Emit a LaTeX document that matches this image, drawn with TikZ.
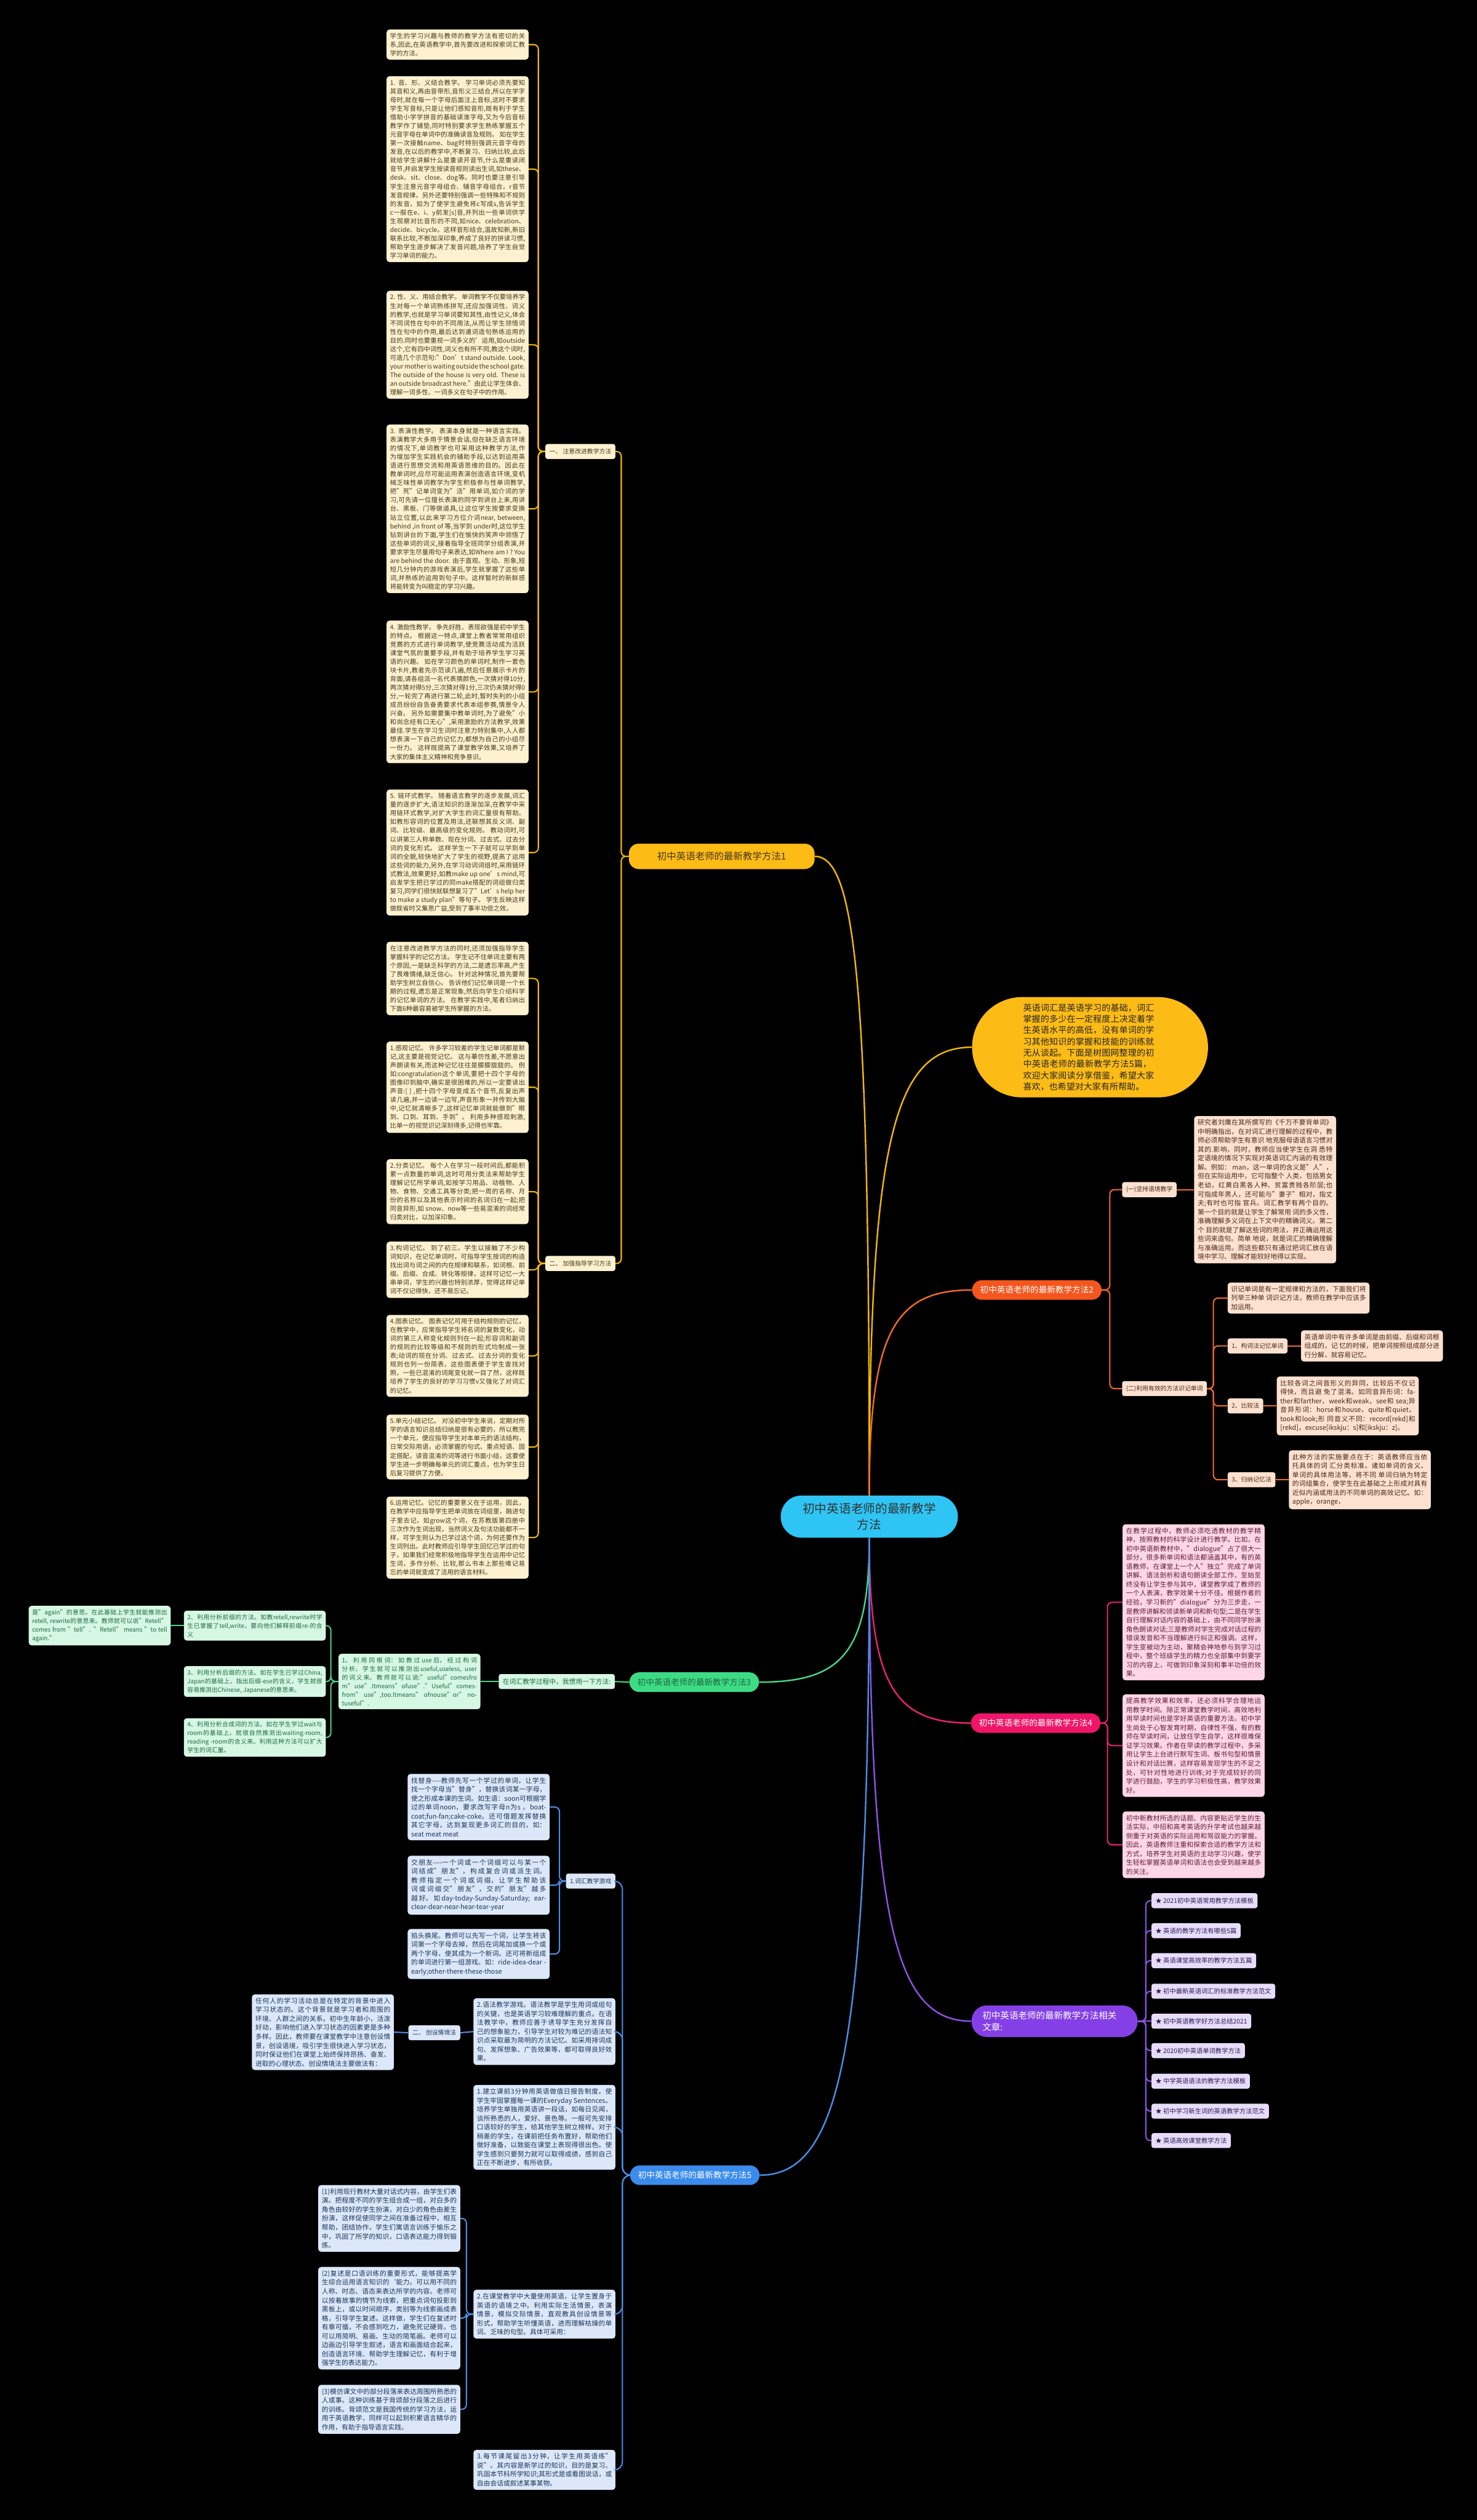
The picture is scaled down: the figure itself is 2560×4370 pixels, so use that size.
\documentclass[tikz,border=0pt]{standalone}
\usepackage{fontspec}
\setmainfont{Noto Sans CJK SC}
\XeTeXlinebreaklocale "zh"
\XeTeXlinebreakskip=0pt plus 1pt
\usepackage{xcolor}
\usetikzlibrary{positioning, calc}

\definecolor{hubfill}{HTML}{2EC5F4}
\definecolor{yelfill}{HTML}{FDBB16}
\definecolor{yelline}{HTML}{F2B705}
\definecolor{yelbox}{HTML}{FDF1D0}
\definecolor{yeltext}{HTML}{45381E}
\definecolor{orgfill}{HTML}{F4561E}
\definecolor{orgline}{HTML}{F26A2C}
\definecolor{orgbox}{HTML}{FDE1D0}
\definecolor{orgtext}{HTML}{4A2818}
\definecolor{grnfill}{HTML}{3DDC84}
\definecolor{grnline}{HTML}{45D488}
\definecolor{grnbox}{HTML}{D5F7E3}
\definecolor{grntext}{HTML}{1E6A40}
\definecolor{pnkfill}{HTML}{EF1568}
\definecolor{pnkline}{HTML}{E6246E}
\definecolor{pnkbox}{HTML}{FFD6E6}
\definecolor{pnktext}{HTML}{5A1D36}
\definecolor{blufill}{HTML}{3A8BEC}
\definecolor{bluline}{HTML}{4A8FE6}
\definecolor{blubox}{HTML}{DCE8FA}
\definecolor{blutext}{HTML}{1C3558}
\definecolor{viofill}{HTML}{8440E6}
\definecolor{violine}{HTML}{8E52E6}
\definecolor{viobox}{HTML}{E7DDFA}
\definecolor{viotext}{HTML}{2E1A55}

\tikzset{
  hub/.style={rectangle, rounded corners=36pt, fill=hubfill, text=black!80,
              minimum height=73pt, minimum width=307pt, align=center,
              font=\fontsize{21}{28}\selectfont},
  intro/.style={rectangle, rounded corners=87pt, fill=yelfill, text=black!85,
                minimum height=174pt, minimum width=409pt, text width=232pt, align=left,
                font=\fontsize{15}{19.5}\selectfont},
  pill/.style={rectangle, rounded corners=17pt, minimum height=34pt, inner xsep=14pt,
               text=white, font=\fontsize{14.5}{18}\selectfont},
  tag/.style={rectangle, rounded corners=4pt, minimum height=26pt, inner xsep=7pt,
              font=\fontsize{10.5}{13}\selectfont},
  note/.style={rectangle, rounded corners=5pt, text width=234pt, inner xsep=6pt,
               inner ysep=6pt, align=justify, font=\fontsize{11.5}{15.5}\selectfont},
  ynote/.style={note, fill=yelbox, text=yeltext, font=\fontsize{11}{15}\selectfont},
  ytag/.style={tag, fill=yelbox, text=yeltext},
  onote/.style={note, fill=orgbox, text=orgtext},
  otag/.style={tag, fill=orgbox, text=orgtext},
  gnote/.style={note, fill=grnbox, text=grntext, font=\fontsize{10.5}{15}\selectfont},
  gtag/.style={tag, fill=grnbox, text=grntext, font=\fontsize{11.5}{14}\selectfont},
  pnote/.style={note, fill=pnkbox, text=pnktext},
  bnote/.style={note, fill=blubox, text=blutext},
  btag/.style={tag, fill=blubox, text=blutext},
  vtag/.style={tag, fill=viobox, text=viotext, font=\fontsize{11}{13}\selectfont},
  brk/.style={line width=2.2pt, rounded corners=8pt},
  curvy/.style={line width=2.6pt, to path={.. controls ($(\tikztostart)!0.8!(\tikztostart|-\tikztotarget)$) and ($(\tikztostart|-\tikztotarget)!0.25!(\tikztotarget)$) .. (\tikztotarget)}}
}

\begin{document}
\begin{tikzpicture}[x=1pt, y=-1pt]
\fill[black] (0,0) rectangle (2560,4370);
\useasboundingbox (0,0) rectangle (2560,4370);

% centre and first level
\node[hub] (hub) at (1507,2630) {初中英语老师的最新教学\\方法};
\node[intro, anchor=west] (intro) at (1685,1816) {英语词汇是英语学习的基础，词汇掌握的多少在一定程度上决定着学生英语水平的高低，没有单词的学习其他知识的掌握和技能的训练就无从谈起。下面是树图网整理的初中英语老师的最新教学方法5篇，欢迎大家阅读分享借鉴，希望大家喜欢，也希望对大家有所帮助。};
\node[pill, fill=yelfill, text=yeltext, minimum width=322pt, minimum height=44pt, font=\fontsize{16.5}{20}\selectfont, anchor=west] (ma) at (1090,1485) {初中英语老师的最新教学方法1};
\node[pill, fill=orgfill, anchor=west] (mb) at (1685,2237) {初中英语老师的最新教学方法2};
\node[pill, fill=grnfill, text=grntext, anchor=west] (mc) at (1091,2917) {初中英语老师的最新教学方法3};
\node[pill, fill=pnkfill, anchor=west] (md) at (1683,2988) {初中英语老师的最新教学方法4};
\node[pill, fill=blufill, anchor=west] (me) at (1092,3772) {初中英语老师的最新教学方法5};
\node[pill, fill=viofill, rounded corners=27pt, minimum width=288pt, minimum height=55pt, text width=250pt, align=left, font=\fontsize{15.5}{20}\selectfont, anchor=west] (mf) at (1684,3505) {初中英语老师的最新教学方法相关\\文章:};

\draw[curvy, yelline] (hub.north) to (ma.east);
\draw[curvy, yelline] (hub.north) to (intro.west);
\draw[curvy, orgline] (hub.north) to (mb.west);
\draw[curvy, grnline] (hub.south) to (mc.east);
\draw[curvy, pnkline] (hub.south) to (md.west);
\draw[curvy, violine] (hub.south) to (mf.west);
\draw[curvy, bluline] (hub.south) to (me.east);

% method 1
\node[ytag, anchor=east] (a1) at (1067,783) {一、 注意改进教学方法};
\node[ytag, anchor=east] (a2) at (1067,2191) {二、 加强指导学习方法};
\node[ynote, anchor=north west] (a10) at (670,51) {学生的学习兴趣与教师的教学方法有密切的关系,因此,在英语教学中,首先要改进和探索词汇教学的方法。};
\node[ynote, anchor=north west] (a11) at (670,132) {1. 音、形、义结合教学。 学习单词必须先要知其音和义,再由音带形,音形义三结合,所以在学字母时,就在每一个字母后面注上音标,这时不要求学生写音标,只是让他们感知音形,既有利于学生借助小学学拼音的基础读准字母,又为今后音标教学作了铺垫,同时特别要求学生熟练掌握五个元音字母在单词中的准确读音及规则。 如在学生第一次接触name、bag时特别强调元音字母的发音,在以后的教学中,不断复习、归纳比较,此后就给学生讲解什么是重读开音节,什么是重读闭音节,并启发学生按读音规则读出生词,如these、desk、sit、close、dog等。同时也要注意引导学生注意元音字母组合、辅音字母组合，r音节发音规律。另外还要特别强调一些特殊和不规则的发音，如为了使学生避免将c写成s,告诉学生c一般在e、i、y前发[s]音,并列出一些单词供学生观察对比音形的不同,如nice、celebration、decide、bicycle。这样音形结合,温故知新,新旧联系比较,不断加深印象,养成了良好的拼读习惯,帮助学生逐步解决了发音问题,培养了学生自觉学习单词的能力。};
\node[ynote, anchor=north west] (a12) at (670,504) {2. 性、义、用结合教学。 单词教学不仅要培养学生对每一个单词熟练拼写,还应加强词性、词义的教学,也就是学习单词要知其性,由性记义,体会不同词性在句中的不同用法,从而让学生领悟词性在句中的作用,最后达到遣词造句熟练运用的目的.同时也要重视一词多义的'运用,如outside这个,它有四中词性,词义也有所不同,教这个词时,可造几个示范句:"Don’t stand outside. Look, your mother is waiting outside the school gate. The outside of the house is very old. These is an outside broadcast here."由此让学生体会、理解一词多性、一词多义在句子中的作用。};
\node[ynote, anchor=north west] (a13) at (670,736) {3. 表演性教学。 表演本身就是一种语言实践。表演教学大多用于情景会话,但在缺乏语言环境的情况下,单词教学也可采用这种教学方法,作为增加学生实践机会的辅助手段,以达到运用英语进行思想交流和用英语思维的目的。因此在教单词时,应尽可能运用表演创造语言环境,变机械乏味性单词教学为学生积极参与性单词教学,把"死"记单词变为"活"用单词,如介词的学习,可先请一位擅长表演的同学到讲台上来,用讲台、黑板、门等做道具,让这位学生按要求变换站立位置,以此来学习方位介词near, between, behind ,in front of 等,当学到 under时,这位学生钻到讲台的下面,学生们在愉快的笑声中领悟了这些单词的词义,接着指导全班同学分组表演,并要求学生尽量用句子来表达,如Where am I ? You are behind the door. 由于直观、生动、形象,短短几分钟内的游戏表演后,学生就掌握了这些单词,并熟练的运用到句子中。这样暂时的新鲜感将能转变为叫稳定的学习兴趣。};
\node[ynote, anchor=north west] (a14) at (670,1076) {4. 激励性教学。 争先好胜、表现欲强是初中学生的特点。 根据这一特点,课堂上教者常常用组织竞赛的方式进行单词教学,使竞赛活动成为活跃课堂气氛的重要手段,并有助于培养学生学习英语的兴趣。 如在学习颜色的单词时,制作一套色块卡片,教者先示范读几遍,然后任意展示卡片的背面,请各组派一名代表猜颜色,一次猜对得10分,两次猜对得5分,三次猜对得1分,三次仍未猜对得0分,一轮完了再进行第二轮,此时,暂时失利的小组成员纷纷自告奋勇要求代表本组参赛,情景令人兴奋。 另外如需要集中教单词时,为了避免"小和尚念经有口无心",采用激励的方法教学,效果最佳.学生在学习生词时注意力特别集中,人人都想表演一下自己的记忆力,都想为自己的小组尽一份力。 这样既提高了课堂教学效果,又培养了大家的集体主义精神和竞争意识。};
\node[ynote, anchor=north west] (a15) at (670,1369) {5. 链环式教学。 随着语言教学的逐步发展,词汇量的逐步扩大,语法知识的逐渐加深,在教学中采用链环式教学,对扩大学生的词汇量很有帮助。 如教形容词的位置及用法,还联想其反义词、副词、比较级、最高级的变化规则。 教动词时,可以讲第三人称单数、现在分词、过去式、过去分词的变化形式。 这样学生一下子就可以学到单词的全貌,较快地扩大了学生的视野,提高了运用这些词的能力,另外,在学习动词词组时,采用链环式教法,效果更好,如教make up one's mind,可启发学生把已学过的同make搭配的词组做归类复习,同学们很快就联想复习了"Let's help her to make a study plan"等句子。 学生反映这样做既省时又集思广益,受到了事半功倍之效。};
\node[ynote, anchor=north west] (a20) at (670,1633) {在注意改进教学方法的同时,还须加强指导学生掌握科学的记忆方法。 学生记不住单词主要有两个原因,一是缺乏科学的方法,二是遗忘率高,产生了畏难情绪,缺乏信心。 针对这种情况,首先要帮助学生树立自信心。 告诉他们记忆单词是一个长期的过程,遗忘是正常现象,然后向学生介绍科学的记忆单词的方法。 在教学实践中,笔者归纳出下面6种最容易被学生所掌握的方法。};
\node[ynote, anchor=north west] (a21) at (670,1806) {1.感观记忆。 许多学习较差的学生记单词都是默记,这主要是视觉记忆。 这与摹仿性差,不愿意出声朗读有关,而这种记忆往往是朦朦胧胧的。 例如:congratulation这个单词,要把十四个字母的图像印到脑中,确实是很困难的,所以一定要读出声音:[ ] ,把十四个字母变成五个音节,反复出声读几遍,并一边读一边写,声音形象一并传到大脑中,记忆就清晰多了,这样记忆单词就能做到"眼到、口到、耳到、手到"。 利用多种感观刺激,比单一的视觉识记深刻得多,记得也牢靠。};
\node[ynote, anchor=north west] (a22) at (670,2010) {2.分类记忆。 每个人在学习一段时间后,都能积累一点数量的单词,这时可用分类法来帮助学生理解记忆所学单词,如按学习用品、动植物、人物、食物、交通工具等分类;把一周的名称、月份的名称以及其他表示时间的名词归在一起;把同音异形,如 snow、now等一些易混淆的词经常归类对比，以加深印象。};
\node[ynote, anchor=north west] (a23) at (670,2153) {3.构词记忆。 到了初三，学生以接触了不少构词知识，在记忆单词时，可指导学生按词的构造找出词与词之间的内在规律和联系，如词根、前缀、后缀、合成、转化等规律，这样可记忆一大串单词，学生的兴趣也特别浓厚，觉得这样记单词不仅记得快，还不易忘记。};
\node[ynote, anchor=north west] (a24) at (670,2280) {4.图表记忆。 图表记忆可用于结构规则的记忆，在教学中，应常指导学生将名词的复数变化，动词的第三人称变化规则列在一起;形容词和副词的规则的比较等级和不规则的形式均制成一张表;动词的现在分词、过去式、过去分词的变化规则也列一份简表，这些图表便于学生查找对照，一些已混淆的词尾变化就一目了然，这样既培养了学生的良好的学习习惯v又强化了对词汇的记忆。};
\node[ynote, anchor=north west] (a25) at (670,2453) {5.单元小结记忆。 对没初中学生来说，定期对所学的语言知识总结归纳是很有必要的，所以教完一个单元，便应指导学生对本单元的语法结构，日常交际用语，必须掌握的句式、重点短语、固定搭配，读音混淆的词等进行书面小结，这要使学生进一步明确每单元的词汇重点，也为学生日后复习提供了方便。};
\node[ynote, anchor=north west] (a26) at (670,2595) {6.运用记忆。记忆的重要意义在于运用，因此，在教学中应指导学生把单词放在词组里，融进句子里去记，如grow这个词，在苏教版第四册中三次作为生词出现，当然词义及句法功能都不一样，可学生则认为已学过这个词，为何还要作为生词列出。此时教师应引导学生回忆已学过的句子，如果我们经常积极地指导学生在运用中记忆生词，多作分析、比较,那么书本上那些难记易忘的单词就变成了活用的语言材料。};
\draw[brk, yelline] (ma.west) -- ++(-13,0) |- (a1.east);
\draw[brk, yelline] (ma.west) -- ++(-13,0) |- (a2.east);
\draw[brk, yelline] (a1.west) -- ++(-12,0) |- (a10.east);
\draw[brk, yelline] (a1.west) -- ++(-12,0) |- (a11.east);
\draw[brk, yelline] (a1.west) -- ++(-12,0) |- (a12.east);
\draw[brk, yelline] (a1.west) -- ++(-12,0) |- (a13.east);
\draw[brk, yelline] (a1.west) -- ++(-12,0) |- (a14.east);
\draw[brk, yelline] (a1.west) -- ++(-12,0) |- (a15.east);
\draw[brk, yelline] (a2.west) -- ++(-12,0) |- (a20.east);
\draw[brk, yelline] (a2.west) -- ++(-12,0) |- (a21.east);
\draw[brk, yelline] (a2.west) -- ++(-12,0) |- (a22.east);
\draw[brk, yelline] (a2.west) -- ++(-12,0) |- (a23.east);
\draw[brk, yelline] (a2.west) -- ++(-12,0) |- (a24.east);
\draw[brk, yelline] (a2.west) -- ++(-12,0) |- (a25.east);
\draw[brk, yelline] (a2.west) -- ++(-12,0) |- (a26.east);

% method 2
\node[otag, anchor=west] (b1) at (1945,2063) {(一)坚持语境教学};
\node[onote, anchor=west] (b1t) at (2070,2063) {研究者刘鹰在其所撰写的《千万不要背单词》中明确指出，在对词汇进行理解的过程中，教师必须帮助学生有意识 地克服母语语言习惯对其的.影响，同时，教师应当使学生在洞 悉特定语境的情况下实现对英语词汇内涵的有效理解。例如： man，这一单词的含义是"人"，但在实际运用中，它可指整个 人类，包括男女老幼，红黄白黑各人种、贫富贵贱各阶层;也 可指成年男人，还可能与"妻子"相对，指丈夫;有时也可指 官兵。词汇教学有两个目的。第一个目的就是让学生了解常用 词的多义性，准确理解多义词在上下文中的精确词义。第二个 目的就是了解这些词的用法，并正确运用这些词来造句。简单 地说，就是词汇的精确理解与准确运用。而这些都只有通过把词汇放在语境中学习、理解才能较好地得以实现。};
\node[otag, anchor=west] (b2) at (1945,2408) {(二)利用有效的方法识记单词};
\node[onote, anchor=west] (b20) at (2128,2251) {识记单词是有一定规律和方法的，下面我们将列举三种单 词识记方法，教师在教学中应该多加运用。};
\node[otag, anchor=west] (b21) at (2128,2334) {1、构词法记忆单词};
\node[onote, right=23pt of b21] (b21t) {英语单词中有许多单词是由前缀、后缀和词根组成的，记 忆的时候，把单词按照组成部分进行分解，就容易记忆。};
\node[otag, anchor=west] (b22) at (2128,2438) {2、比较法};
\node[onote, right=23pt of b22] (b22t) {比较各词之间音形义的异同，比较后不仅记得快，而且避 免了混淆。如同音异形词：father和farther，week和weak，see和 sea;异音异形词：horse和house，quite和quiet，took和look;形 同音义不同：record[rekd]和[rekd]，excuse[ikskju：s]和[ikskju：z]。};
\node[otag, anchor=west] (b23) at (2128,2566) {3、归纳记忆法};
\node[onote, right=23pt of b23] (b23t) {此种方法的实施要点在于：英语教师应当依托具体的词 汇分类标准，诸如单词的含义、单词的具体用法等，将不同 单词归纳为特定的词组集合，使学生在此基础之上形成对具有近似内涵或用法的不同单词的高效记忆。如：apple，orange，};
\draw[brk, orgline] (mb.east) -- ++(14,0) |- (b1.west);
\draw[brk, orgline] (mb.east) -- ++(14,0) |- (b2.west);
\draw[brk, orgline] (b1.east) -- (b1t.west);
\draw[brk, orgline] (b2.east) -- ++(11,0) |- (b20.west);
\draw[brk, orgline] (b2.east) -- ++(11,0) |- (b21.west);
\draw[brk, orgline] (b2.east) -- ++(11,0) |- (b22.west);
\draw[brk, orgline] (b2.east) -- ++(11,0) |- (b23.west);
\draw[brk, orgline] (b21.east) -- (b21t.west);
\draw[brk, orgline] (b22.east) -- (b22t.west);
\draw[brk, orgline] (b23.east) -- (b23t.west);

% method 3
\node[gtag, anchor=east] (c0) at (1066,2916) {在词汇教学过程中，我惯用一下方法:};
\node[gnote, anchor=east] (c1) at (833,2916) {1、利用同根词：如教过use后，经过构词分析，学生就可以推测出useful,useless, user的词义来。教师就可以说:"useful"\allowbreak comesfro\allowbreak m"use".\allowbreak Itmeans"ofuse".\allowbreak "Useful"comesfro\allowbreak m"use",\allowbreak too.Itmeans"ofnouse"\allowbreak or"notusefu\allowbreak l".};
\node[gnote, anchor=east] (c2) at (565,2819) {2、利用分析前缀的方法。如教retell,rewrite时学生已掌握了tell,write，要向他们解释前缀re-的含义};
\node[gnote, anchor=east] (c2t) at (296,2819) {是"again"的意思。在此基础上学生就能推测出retell, rewrite的意思来。教师就可以说"Retell" comes from "tell". "Retell" means "to tell again."};
\node[gnote, anchor=east] (c3) at (565,2916) {3、利用分析后缀的方法。如在学生已学过China, Japan的基础上，指出后缀-ese的含义，学生就很容易推测出Chinese, Japanese的意思来。};
\node[gnote, anchor=east] (c4) at (565,3013) {4、利用分析合成词的方法。如在学生学过wait与room的基础上，就很自然推测出waiting-room, reading -room的含义来。利用这种方法可以扩大学生的词汇量。};
\draw[brk, grnline] (mc.west) -- (c0.east);
\draw[brk, grnline] (c0.west) -- (c1.east);
\draw[brk, grnline] (c1.west) -- ++(-13,0) |- (c2.east);
\draw[brk, grnline] (c1.west) -- ++(-13,0) |- (c3.east);
\draw[brk, grnline] (c1.west) -- ++(-13,0) |- (c4.east);
\draw[brk, grnline] (c2.west) -- (c2t.east);

% method 4
\node[pnote, anchor=north west] (d1) at (1946,2643) {在教学过程中，教师必须吃透教材的教学精神，按照教材的科学设计进行教学。比如，在初中英语新教材中，"dialogue"占了很大一部分，很多新单词和语法都涵盖其中，有的英语教师，在课堂上一个人"独立"完成了单词讲解、语法剖析和语句朗读全部工作，至始至终没有让学生参与其中，课堂教学成了教师的一个人表演，教学效果十分不佳。根据作者的经验，学习新的"dialogue"分为三步走，一是教师讲解和领读新单词和新句型;二是在学生自行理解对话内容的基础上，由不同同学扮演角色朗读对话;三是教师对学生完成对话过程的错误发音和不当理解进行纠正和强调。这样，学生变被动为主动，聚精会神地参与到学习过程中，整个班级学生的精力也全部集中到要学习的内容上，可做到印象深刻和事半功倍的效果。};
\node[pnote, anchor=north west] (d2) at (1946,2938) {提高教学效果和效率，还必须科学合理地运用教学时间。除正常课堂教学时间，高效地利用早读时间也是学好英语的重要方法。初中学生尚处于心智发育时期，自律性不强，有的教师在早读时间，让放任学生自学，这样很难保证学习效果。作者在早读的教学过程中，多采用让学生上台进行默写生词、板书句型和情景设计和对话比赛，这样容易发现学生的不足之处，可针对性地进行训练;对于完成较好的同学进行鼓励，学生的学习积极性高，教学效果好。};
\node[pnote, anchor=north west] (d3) at (1946,3141) {初中新教材所选的话题、内容更贴近学生的生活实际，中招和高考英语的升学考试也越来越侧重于对英语的实际运用和驾驭能力的掌握。因此，英语教师注重和探索合适的教学方法和方式，培养学生对英语的主动学习兴趣，使学生轻松掌握英语单词和语法也会受到越来越多的关注。};
\draw[brk, pnkline] (md.east) -- ++(12,0) |- (d1.west);
\draw[brk, pnkline] (md.east) -- ++(12,0) |- (d2.west);
\draw[brk, pnkline] (md.east) -- ++(12,0) |- (d3.west);

% method 5
\node[btag, anchor=east] (e1) at (1067,3262) {1.词汇教学游戏};
\node[bnote, anchor=north east] (e11) at (953,3076) {找替身-{}-{}-{}-教师先写一个学过的单词，让学生找一个字母当"替身"，替换该词某一字母，使之形成本课的生词。如生语：soon可根据学过的单词noon，要求改写字母n为s 。boat-coat;fun-fan;cake-coke。还可借题发挥替换其它字母，达到复现更多词汇的目的，如：seat meat meat};
\node[bnote, anchor=north east] (e12) at (953,3218) {交朋友-{}-{}-{}-一个词或一个词缀可以与某一个词结成"朋友"，构成复合词或派生词。教师指定一个词或词缀，让学生帮助该词或词缀交"朋友"，交的"朋友"越多越好。如day-today-Sunday-Saturday; ear-clear-dear-near-hear-tear-year};
\node[bnote, anchor=north east] (e13) at (953,3345) {掐头换尾。教师可以先写一个词，让学生将该词第一个字母去掉，然后在词尾加或换一个或两个字母，使其成为一个新词。还可将新组成的单词进行第一组游戏。如：ride-idea-dear - early;other-there-these-those};
\node[bnote, anchor=east] (e2) at (1067,3523) {2.语法教学游戏。语法教学是学生用词或组句的关键，也是英语学习较难理解的重点。在语法教学中，教师应善于诱导学生充分发挥自己的想象能力，引导学生对较为难记的语法知识点采取最为简明的方法记忆。如采用排词成句、发挥想象、广告效果等，都可取得良好效果。};
\node[btag, anchor=east] (e2a) at (798,3525) {二、 创设情境法};
\node[bnote, anchor=east] (e2b) at (683,3524) {任何人的学习活动总是在特定的背景中进入学习状态的。这个背景就是学习者和周围的环境、人群之间的关系。初中生年龄小，活泼好动，影响他们进入学习状态的因素更是多种多样。因此，教师要在课堂教学中注意创设情景，创设语境，吸引学生很快进入学习状态，同时保证他们在课堂上始终保持昂扬、奋发、进取的心理状态。创设情境法主要做法有：};
\node[bnote, anchor=east] (e3) at (1067,3689) {1.建立课前3分钟用英语做值日报告制度，使学生牢固掌握每一课的Everyday Sentences。培养学生单独用英语讲一段话，如每日见闻，谈所熟悉的人，爱好、景色等。一般可先安排口语较好的学生，给其他学生树立榜样。对于稍差的学生，在课前把任务布置好，帮助他们做好准备，以致能在课堂上表现得很出色。使学生感到只要努力就可以取得成绩，感到自己正在不断进步，有所收获。};
\node[bnote, anchor=east] (e4) at (1067,4013) {2.在课堂教学中大量使用英语，让学生置身于英语的语境之中。利用实际生活情景，表演情景，模拟交际情景，直观教具创设情景等形式，帮助学生听懂英语，进而理解枯燥的单词、乏味的句型。具体可采用：};
\node[bnote, anchor=east] (e41) at (798,3847) {(1)利用现行教材大量对话式内容，由学生们表演。把程度不同的学生组合成一组，对白多的角色由较好的学生扮演，对白少的角色由差生扮演，这样促使同学之间在准备过程中，相互帮助，团结协作，学生们寓语言训练于愉乐之中，巩固了所学的知识，口语表达能力得到锻炼。};
\node[bnote, anchor=east] (e42) at (798,4020) {(2)复述是口语训练的重要形式，能够提高学生综合运用语言知识的`能力。可以用不同的人称、时态、语态来表达所学的内容。老师可以按着故事的情节为线索，把重点词句投影到黑板上，或以时间顺序，类别等为线索画成表格，引导学生复述。这样做，学生们在复述时有章可循，不会感到吃力，避免死记硬背。也可以用简明、易画、生动的简笔画。老师可以边画边引导学生叙述，语言和画面结合起来，创造语言环境、帮助学生理解记忆，有利于增强学生的表达能力。};
\node[bnote, anchor=east] (e43) at (798,4178) {(3)模仿课文中的部分段落来表达周围所熟悉的人或事。这种训练基于背颂部分段落之后进行的训练。背颂范文是我国传统的学习方法，运用于英语教学，同样可以起到积累语言精华的作用，有助于指导语言实践。};
\node[bnote, anchor=east] (e5) at (1067,4283) {3.每节课尾留出3分钟，让学生用英语练"说"。其内容是新学过的知识，目的是复习、巩固本节科所学知识;其形式是或看图说话，或自由会话或叙述某事某物。};
\draw[brk, bluline, rounded corners=14pt] (me.west) -- ++(-13,0) |- (e1.east);
\draw[brk, bluline, rounded corners=14pt] (me.west) -- ++(-13,0) |- (e2.east);
\draw[brk, bluline, rounded corners=14pt] (me.west) -- ++(-13,0) |- (e3.east);
\draw[brk, bluline, rounded corners=14pt] (me.west) -- ++(-13,0) |- (e4.east);
\draw[brk, bluline, rounded corners=14pt] (me.west) -- ++(-13,0) |- (e5.east);
\draw[brk, bluline] (e1.west) -- ++(-11,0) |- (e11.east);
\draw[brk, bluline] (e1.west) -- ++(-11,0) |- (e12.east);
\draw[brk, bluline] (e1.west) -- ++(-11,0) |- (e13.east);
\draw[brk, bluline] (e2.west) -- (e2a.east);
\draw[brk, bluline] (e2a.west) -- (e2b.east);
\draw[brk, bluline] (e4.west) -- ++(-12,0) |- (e41.east);
\draw[brk, bluline] (e4.west) -- ++(-12,0) |- (e42.east);
\draw[brk, bluline] (e4.west) -- ++(-12,0) |- (e43.east);

% related articles
\node[vtag, anchor=west] (f1) at (1996,3296) {★ 2021初中英语常用教学方法模板};
\node[vtag, anchor=west] (f2) at (1996,3348) {★ 英语的教学方法有哪些5篇};
\node[vtag, anchor=west] (f3) at (1996,3400) {★ 英语课堂高效率的教学方法五篇};
\node[vtag, anchor=west] (f4) at (1996,3453) {★ 初中最新英语词汇的标准教学方法范文};
\node[vtag, anchor=west] (f5) at (1996,3505) {★ 初中英语教学好方法总结2021};
\node[vtag, anchor=west] (f6) at (1996,3556) {★ 2020初中英语单词教学方法};
\node[vtag, anchor=west] (f7) at (1996,3609) {★ 中学英语语法的教学方法模板};
\node[vtag, anchor=west] (f8) at (1996,3661) {★ 初中学习新生词的英语教学方法范文};
\node[vtag, anchor=west] (f9) at (1996,3712) {★ 英语高效课堂教学方法};
\draw[brk, violine] (mf.east) -- ++(14,0) |- (f1.west);
\draw[brk, violine] (mf.east) -- ++(14,0) |- (f2.west);
\draw[brk, violine] (mf.east) -- ++(14,0) |- (f3.west);
\draw[brk, violine] (mf.east) -- ++(14,0) |- (f4.west);
\draw[brk, violine] (mf.east) -- (f5.west);
\draw[brk, violine] (mf.east) -- ++(14,0) |- (f6.west);
\draw[brk, violine] (mf.east) -- ++(14,0) |- (f7.west);
\draw[brk, violine] (mf.east) -- ++(14,0) |- (f8.west);
\draw[brk, violine] (mf.east) -- ++(14,0) |- (f9.west);
\end{tikzpicture}
\end{document}
